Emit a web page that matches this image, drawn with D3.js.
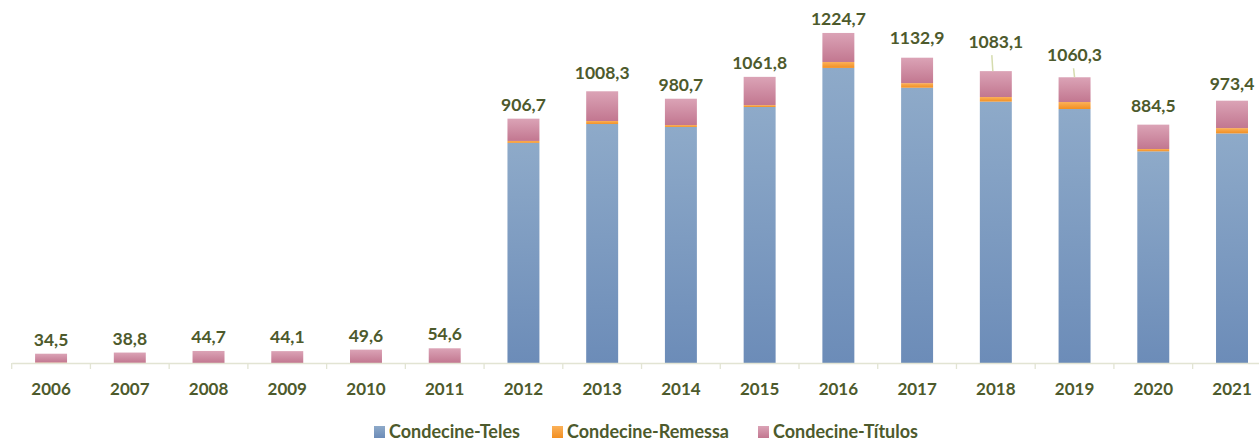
<!DOCTYPE html>
<html>
<head>
<meta charset="utf-8">
<script src="https://cdn.jsdelivr.net/npm/d3@7"></script>
<style>
  html, body { margin: 0; padding: 0; background: #fff; }
  svg text { font-family: Lato, "Open Sans", sans-serif; font-weight: bold; fill: #4d5a2c; }
</style>
</head>
<body>
<div id="wrapper"></div>
<script>
// dados (milhões R$)
const years = ["2006","2007","2008","2009","2010","2011","2012","2013","2014","2015","2016","2017","2018","2019","2020","2021"];
const teles = [0, 0, 0, 0, 0, 0, 817, 887, 876, 950, 1095, 1021.6, 970, 942.5, 785.5, 852];
const remessa = [1.5, 0.5, 0, 0, 0, 0, 7, 11, 7, 7, 22, 17, 17, 26, 8.6, 19.7];
const titulos = [33, 38.3, 44.7, 44.1, 49.6, 54.6, 82.7, 110.3, 97.7, 104.8, 107.7, 94.3, 96.1, 91.8, 90.4, 101.7];
const totalLabels = ["34,5","38,8","44,7","44,1","49,6","54,6","906,7","1008,3","980,7","1061,8","1224,7","1132,9","1083,1","1060,3","884,5","973,4"];
const seriesNames = ["Condecine-Teles", "Condecine-Remessa", "Condecine-Títulos"];

async function buildPlot() {
    const dimension = {
        width: 1259,
        height: 442,
        margin: { top: 0, left: 11.7, bottom: 79, right: 0 }
    };
    dimension.boundedWidth = 16 * 78.73;
    dimension.boundedHeight = dimension.height - dimension.margin.top - dimension.margin.bottom;

    const svg = d3.select("#wrapper").append("svg")
        .attr("width", dimension.width)
        .attr("height", dimension.height);

    // gradientes estilo Excel
    const defs = svg.append("defs");
    const grads = [
        { id: "gTeles", c: ["#8eaac9", "#6c8cb8"] },
        { id: "gRemessa", c: ["#fbb159", "#f28f22"] },
        { id: "gTitulos", c: ["#dba3b6", "#c27790"] }
    ];
    grads.forEach(g => {
        const lg = defs.append("linearGradient").attr("id", g.id)
            .attr("x1", 0).attr("y1", 0).attr("x2", 0).attr("y2", 1);
        lg.append("stop").attr("offset", "0%").attr("stop-color", g.c[0]);
        lg.append("stop").attr("offset", "100%").attr("stop-color", g.c[1]);
    });
    const fills = ["url(#gTeles)", "url(#gRemessa)", "url(#gTitulos)"];

    const bounded = svg.append("g")
        .attr("transform", `translate(${dimension.margin.left},${dimension.margin.top})`);

    const data = years.map((y, i) => ({ year: y, teles: teles[i], remessa: remessa[i], titulos: titulos[i], label: totalLabels[i] }));
    const stack = d3.stack().keys(["teles", "remessa", "titulos"]);
    const stacked = stack(data);

    const xScaler = d3.scaleBand()
        .domain(years)
        .range([0, dimension.boundedWidth])
        .padding(0);

    const yScaler = d3.scaleLinear()
        .domain([0, 1347])
        .range([dimension.boundedHeight, 0]);

    const barWidth = xScaler.bandwidth() * 0.406;
    const barX = d => xScaler(d.data.year) + (xScaler.bandwidth() - barWidth) / 2;

    bounded.selectAll("g.serie")
        .data(stacked)
        .join("g")
        .attr("class", "serie")
        .attr("fill", (d, i) => fills[i])
        .selectAll("rect")
        .data(d => d.filter(s => s[1] - s[0] > 0))
        .join("rect")
        .attr("x", barX)
        .attr("width", barWidth)
        .attr("y", d => yScaler(d[1]))
        .attr("height", d => yScaler(d[0]) - yScaler(d[1]));

    // eixo X
    const xAxisGenerator = d3.axisBottom(xScaler).tickSize(0).tickPadding(20);
    const xAxis = bounded.append("g")
        .attr("transform", `translate(0,${dimension.boundedHeight})`)
        .call(xAxisGenerator);
    xAxis.select(".domain").attr("stroke", "#e2e4d3").attr("stroke-width", 1.3);
    xAxis.selectAll("text").style("font-size", "17px").attr("fill", "#4d5a2c");
    // marcas entre categorias
    bounded.append("g")
        .selectAll("line")
        .data(years.concat(["end"]))
        .join("line")
        .attr("x1", (d, i) => i * xScaler.step())
        .attr("x2", (d, i) => i * xScaler.step())
        .attr("y1", dimension.boundedHeight)
        .attr("y2", dimension.boundedHeight + 6)
        .attr("stroke", "#e2e4d3")
        .attr("stroke-width", 1.3);

    // rótulos dos totais
    const lift = { "2017": 14, "2018": 23, "2019": 16, "2013": 12, "2020": 13, "2021": 11 };
    const totals = data.map(d => d.teles + d.remessa + d.titulos);
    data.forEach((d, i) => {
        const cx = xScaler(d.year) + xScaler.bandwidth() / 2;
        const top = yScaler(totals[i]);
        const off = lift[d.year] || 8;
        bounded.append("text")
            .attr("x", cx)
            .attr("y", top - off)
            .attr("text-anchor", "middle")
            .style("font-size", "17.5px")
            .text(d.label);
        if (d.year === "2018" || d.year === "2019") {
            bounded.append("line")
                .attr("x1", cx - 4 + (d.year === "2019" ? 3 : 0))
                .attr("y1", top - off + 7)
                .attr("x2", cx - 4 + (d.year === "2019" ? 4 : 1))
                .attr("y2", top)
                .attr("stroke", "#d5dcae")
                .attr("stroke-width", 1.5);
        }
    });

    // legenda
    const legendX = [374, 552, 758];
    const legend = svg.append("g");
    seriesNames.forEach((name, i) => {
        legend.append("rect")
            .attr("x", legendX[i])
            .attr("y", 426)
            .attr("width", 11)
            .attr("height", 12)
            .attr("fill", fills[i]);
        legend.append("text")
            .attr("x", legendX[i] + 15)
            .attr("y", 438)
            .style("font-size", "18px")
            .text(name);
    });
}

buildPlot();
</script>
</body>
</html>
